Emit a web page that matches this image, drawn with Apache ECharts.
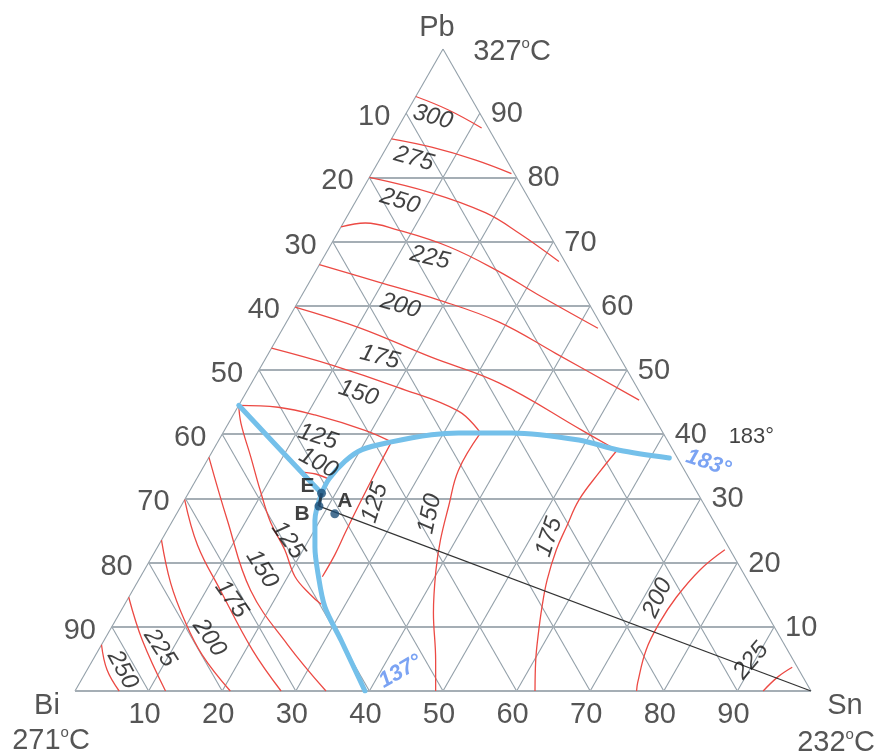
<!DOCTYPE html>
<html><head><meta charset="utf-8">
<script src="https://cdn.jsdelivr.net/npm/echarts@6/dist/echarts.min.js"></script>
<style>html,body{margin:0;padding:0;background:#fff}#c{width:880px;height:756px}</style>
</head><body><div id="c"></div>
<script>
// ---------------- DATA (compositions in %, points are [Sn, Pb]; Bi = 100 - Sn - Pb) ----------------
const gridTicks = [10, 20, 30, 40, 50, 60, 70, 80, 90];
const pbGridTicks = [10, 20, 30, 40, 50, 60, 70, 80];          // horizontal Pb lines
const leftTickLabels = ['10','20','30','40','50','60','70','80','90'];   // Bi % on Bi–Pb side
const rightTickLabels = ['90','80','70','60','50','40','30','20','10'];  // Pb % on Pb–Sn side
const bottomTickLabels = ['10','20','30','40','50','60','70','80','90']; // Sn % on Bi–Sn side

// isotherms, Pb primary field
const iso300 = [[0,92.6],[5.5,90.5],[11.4,87.7]];
const iso275 = [[0,86.0],[6.1,84.7],[13.1,82.7],[19.0,80.6]];
const iso250 = [[0,80.0],[9.6,77.6],[18.5,74.5],[24.7,71.3],[32.3,66.9]];
const iso225 = [[0,72.3],[3.0,72.9],[8.0,71.8],[16.2,69.2],[24.8,65.4],[31.9,61.8],[42.8,56.5]];
const iso200 = [[0,66.4],[9.4,63.7],[19.0,60.9],[28.8,57.5],[39.0,52.6],[54.0,45.3]];
const iso175Pb = [[0,59.8],[10.6,56.5],[22.4,52.0],[33.6,48.0],[48.6,40.6],[54.9,37.5]];
const iso150Pb = [[0,53.4],[9.4,50.8],[20.2,47.3],[30.3,43.6],[35.0,40.2]];
const iso125Pb = [[0,44.5],[5.5,44.2],[11.1,43.0],[19.1,40.6],[23.6,38.8]];
const iso100 = [[13.5,34.1],[15.8,33.8],[18.2,32.9]];
// isotherms, Sn primary field
const iso125Sn = [[23.6,38.8],[23.8,34.0],[24.1,28.7],[24.4,24.6],[24.7,21.2],[24.7,17.8]];
const iso150Sn = [[35.0,40.2],[34.9,34.4],[36.4,28.7],[37.9,23.5],[39.6,18.9],[42.6,12.2],[46.6,4.8],[49.0,0]];
const iso175Sn = [[54.9,37.5],[54.2,34.0],[53.6,29.8],[54.0,25.5],[54.4,22.0],[55.5,17.3],[56.9,13.1],[58.7,8.4],[60.2,4.8],[62.5,0]];
const iso200Sn = [[77.3,22.0],[75.5,18.9],[74.4,14.6],[74.1,10.6],[74.4,6.4],[75.8,1.3],[76.3,0]];
const iso225Sn = [[95.6,3.7],[94.4,2.2],[93.5,0]];
// isotherms, Bi primary field
const iso125Bi = [[0,44.5],[1.7,41.7],[5.7,36.4],[9.5,31.3],[13.5,26.2],[17.5,22.0],[21.0,17.8],[24.5,15.0],[26.7,13.5]];
const iso150Bi = [[0,36.4],[7.4,26.6],[16.0,15.7],[25.3,7.2],[34.1,0]];
const iso175Bi = [[0,29.8],[5.3,22.7],[11.9,15.7],[20.9,6.4],[28.0,0]];
const iso200Bi = [[0,23.5],[4.6,16.8],[9.3,11.1],[14.5,5.6],[21.1,0]];
const iso225Bi = [[0,14.6],[5.2,7.9],[12.3,0]];
const iso250Bi = [[0,7.2],[2.7,3.3],[6.0,0]];

// eutectic valleys
const valleyBiPb = [[0,44.5],[13.7,34.1],[18.1,30.8]];
const valleyPbSn = [[18.1,30.8],[18.0,33.0],[18.8,35.8],[20.2,37.6],[23.6,38.8],[28.5,39.9],[32.0,40.2],[39.2,40.2],[48.9,39.1],[55.2,37.5],[62.6,36.3]];
const valleyBiSn = [[18.1,30.8],[19.3,26.6],[21.4,22.4],[23.8,18.4],[27.4,13.1],[32.2,7.9],[39.4,0]];

// points
const pointNames = ['E','B','A'];
const pointComp = [[18.1,30.8],[18.75,28.8],[21.5,27.6]];
const tieLine = [[18.75,28.8],[100,0]];
const tieLineEB = [[18.1,30.8],[18.75,28.8]];

// isotherm labels
const isoLabelText = ['300','275','250','225','200','175','150','125','100','125','150','175','200','225','125','150','175','200','225','250'];
const isoLabelComp = [[3.9,89.4],[4.6,82.9],[6.0,76.3],[14.5,67.5],[14.2,60.0],[15.4,52.0],[15.3,46.4],[13.2,39.6],[15.3,35.5],
  [26.1,29.3],[34.4,27.6],[52.4,24.0],[71.9,14.5],[89.5,4.7],
  [17.2,23.5],[15.9,19.0],[14.1,14.3],[14.1,8.3],[8.2,6.7],[4.8,3.3]];

// vertex names and melting points
const vertexNames = ['Pb','Bi','Sn'];
const vertexTemps = ['327','271','232'];
const vertexComp = [[0,100],[0,0],[100,0]];

// valley temperature notes
const noteText = ['137°','183°','183°'];
const noteComp = [[42.7,3.0],[68.3,35.5],[72.1,39.6]];

// ---------------- BUILD ----------------
const T = (sn, pb) => [sn + pb / 2, pb];
const conv = arr => arr.map(p => T(p[0], p[1]));
const FONT = "'Liberation Sans', Arial, sans-serif";
const TXT = '#2a2a2a';

const horizLines = pbGridTicks.map(k => ({coords: [T(0,k), T(100-k,k)]}));
horizLines.push({coords: [T(0,0), T(100,0)]});
const diagLines = [];
gridTicks.forEach(k => {
  diagLines.push({coords: [T(k,0), T(k,100-k)]});     // Sn = k
  diagLines.push({coords: [T(100-k,0), T(0,100-k)]}); // Bi = k
});
diagLines.push({coords: [T(0,0), T(0,100)]});
diagLines.push({coords: [T(100,0), T(0,100)]});

const series = [];
series.push({type:'lines', coordinateSystem:'cartesian2d', data: diagLines, silent:true, z:1,
  lineStyle:{color:'#93a0a9', width:1.1, opacity:1}, effect:{show:false}});
series.push({type:'lines', coordinateSystem:'cartesian2d', data: horizLines, silent:true, z:1,
  lineStyle:{color:'#a5aeb5', width:2, opacity:1}, effect:{show:false}});

const redCurves = [iso300, iso275, iso250, iso225, iso200, iso175Pb, iso150Pb, iso125Pb, iso100,
  iso125Sn, iso150Sn, iso175Sn, iso200Sn, iso225Sn,
  iso125Bi, iso150Bi, iso175Bi, iso200Bi, iso225Bi, iso250Bi];
redCurves.forEach(c => series.push({type:'line', data: conv(c), smooth:0.4, showSymbol:false, silent:true, z:2,
  lineStyle:{color:'#ec4a44', width:1.3}}));

[valleyBiPb, valleyPbSn, valleyBiSn].forEach(c => series.push({type:'line', data: conv(c), smooth:0.3, showSymbol:false,
  silent:true, z:3, lineStyle:{color:'#74c0ea', width:5, cap:'round', join:'round'}}));

series.push({type:'line', data: conv(tieLine), showSymbol:false, silent:true, z:4, lineStyle:{color:'#333', width:1.2}});
series.push({type:'line', data: conv(tieLineEB), showSymbol:false, silent:true, z:4, lineStyle:{color:'#2a3a48', width:3}});

const ptOffsets = [[-14,-7],[-17,8],[10,-13]];
series.push({type:'scatter', z:6, silent:true, symbolSize:9, itemStyle:{color:'#1d4f78'},
  data: pointComp.map((p,i) => ({value: T(p[0],p[1]), label:{offset: ptOffsets[i]}})),
  label:{show:true, position:'inside', formatter: p => pointNames[p.dataIndex], color:'#111',
    fontFamily: FONT, fontWeight:'bold', fontSize:21}});

const isoRot = [-15,-16,-17,-13,-16,-15,-18,-18,-28, 72,78,72,65,50, -55,-58,-55,-55,-57,-62];
series.push({type:'scatter', z:5, silent:true, symbolSize:1, itemStyle:{color:'rgba(0,0,0,0)'}, clip:false,
  data: isoLabelComp.map((p,i) => ({value: T(p[0],p[1]), label:{rotate: isoRot[i]}})),
  label:{show:true, position:'inside', formatter: p => isoLabelText[p.dataIndex], color:'#111',
    fontFamily: FONT, fontStyle:'italic', fontSize:24}});

function tickSeries(labels, compFn, offset) {
  return {type:'scatter', z:5, silent:true, symbolSize:1, itemStyle:{color:'rgba(0,0,0,0)'}, clip:false,
    data: labels.map((l,i) => compFn(gridTicks[i])),
    label:{show:true, position:'inside', offset: offset, formatter: p => labels[p.dataIndex],
      color: TXT, fontFamily: FONT, fontSize:29}};
}
series.push(tickSeries(leftTickLabels, v => T(0, 100 - v), [-32, 4]));
series.push(tickSeries(rightTickLabels, v => T(v, 100 - v), [27, 1]));
series.push(tickSeries(bottomTickLabels, v => T(v, 0), [-4, 24]));

const nameOffsets = [[-6,-21],[-28,15],[34,15]];
const tempOffsets = [[69,3],[-24,50],[25,52]];
series.push({type:'scatter', z:5, silent:true, symbolSize:1, itemStyle:{color:'rgba(0,0,0,0)'}, clip:false,
  data: vertexComp.map((p,i) => ({value: T(p[0],p[1]), label:{offset: nameOffsets[i]}})),
  label:{show:true, position:'inside', formatter: p => vertexNames[p.dataIndex], color: TXT, fontFamily: FONT, fontSize:29}});
series.push({type:'scatter', z:5, silent:true, symbolSize:1, itemStyle:{color:'rgba(0,0,0,0)'}, clip:false,
  data: vertexComp.map((p,i) => ({value: T(p[0],p[1]), label:{offset: tempOffsets[i]}})),
  label:{show:true, position:'inside', formatter: p => '{n|' + vertexTemps[p.dataIndex] + '}{s|o}{n|C}',
    rich:{n:{color: TXT, fontFamily: FONT, fontSize:29, lineHeight:31},
          s:{color: TXT, fontFamily: FONT, fontSize:15, lineHeight:15, verticalAlign:'top'}}}});

const noteStyles = [
  {rotate:30, color:'#5a8cf0', fontStyle:'italic', fontWeight:'bold', fontSize:22},
  {rotate:-18, color:'#5a8cf0', fontStyle:'italic', fontWeight:'bold', fontSize:22},
  {rotate:0, color:'#111', fontStyle:'normal', fontWeight:'normal', fontSize:22}
];
series.push({type:'scatter', z:5, silent:true, symbolSize:1, itemStyle:{color:'rgba(0,0,0,0)'}, clip:false,
  data: noteComp.map((p,i) => ({value: T(p[0],p[1]), label: noteStyles[i]})),
  label:{show:true, position:'inside', formatter: p => noteText[p.dataIndex], fontFamily: FONT}});

const chart = echarts.init(document.getElementById('c'), null, {renderer:'canvas'});
chart.setOption({
  animation:false,
  backgroundColor:'#fff',
  grid:{left:75, right:69, top:49, bottom:65},
  xAxis:{type:'value', min:0, max:100, show:false},
  yAxis:{type:'value', min:0, max:100, show:false},
  series: series
});
</script></body></html>
